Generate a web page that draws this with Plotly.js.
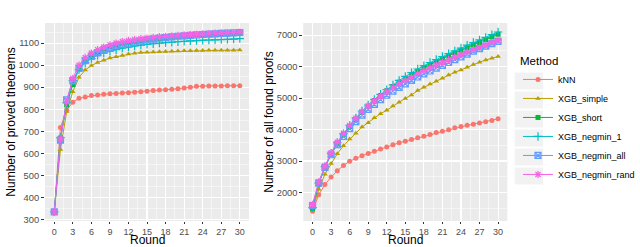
<!DOCTYPE html>
<html><head><meta charset="utf-8">
<script src="https://cdn.plot.ly/plotly-3.0.1.min.js"></script>
<style>html,body{margin:0;padding:0;background:#fff;}#chart{width:640px;height:247px;}</style>
</head><body><div id="chart"></div>
<script>
const rounds = Array.from({length:31}, (_, i) => i);
const methods = ['kNN','XGB_simple','XGB_short','XGB_negmin_1','XGB_negmin_all','XGB_negmin_rand'];
const colors = ['#F8766D','#B79F00','#00BA38','#00BFC4','#619CFF','#F564E3'];

// Left panel: number of proved theorems
const provedKNN    = [335,718,796,832,850,856,862,865,868,870,872,874,875,877,879,882,885,887,889,891,893,897,900,904,905,906,906,906,907,907,907];
const provedSimple = [335,618,790,880,945,978,998,1012,1022,1032,1038,1044,1050,1054,1057,1058,1060,1061,1062,1063,1064,1065,1065,1066,1066,1067,1067,1067,1068,1068,1069];
const provedShort  = [335,670,820,912,985,1018,1045,1062,1075,1085,1092,1098,1103,1108,1112,1115,1118,1121,1124,1127,1130,1132,1134,1136,1137,1139,1140,1141,1142,1143,1145];
const provedNeg1   = [335,672,830,930,980,1010,1030,1045,1055,1063,1070,1077,1082,1087,1091,1094,1097,1100,1102,1104,1106,1108,1110,1111,1113,1114,1115,1116,1117,1118,1120];
const provedNegAll = [335,660,843,930,985,1020,1040,1055,1068,1078,1087,1094,1100,1105,1110,1114,1118,1122,1125,1128,1131,1133,1135,1137,1139,1141,1142,1144,1145,1146,1148];
const provedNegRand= [335,665,835,940,1000,1035,1055,1070,1082,1092,1100,1107,1112,1116,1120,1123,1126,1129,1131,1133,1135,1137,1139,1140,1142,1143,1145,1146,1147,1148,1150];

// Right panel: number of all found proofs
const proofsKNN    = [1400,1930,2250,2490,2690,2860,2990,3090,3170,3240,3310,3385,3445,3515,3580,3630,3680,3740,3790,3845,3905,3950,3995,4055,4100,4135,4170,4210,4250,4290,4340];
const proofsSimple = [1450,2100,2580,2920,3232,3485,3700,3885,4080,4219,4378,4506,4611,4750,4870,4990,5099,5239,5344,5449,5535,5631,5736,5822,5895,5981,6067,6140,6213,6268,6320];
const proofsShort  = [1500,2280,2800,3220,3560,3850,4100,4330,4550,4740,4920,5080,5230,5370,5500,5620,5740,5850,5960,6060,6160,6250,6340,6430,6520,6600,6690,6770,6860,6940,7030];
const proofsNeg1   = [1520,2300,2820,3240,3580,3870,4130,4370,4590,4780,4960,5120,5270,5420,5560,5690,5810,5925,6030,6130,6225,6320,6410,6500,6590,6680,6765,6850,6930,7015,7100];
const proofsNegAll = [1580,2300,2800,3200,3520,3780,4030,4250,4460,4640,4800,4950,5090,5220,5340,5450,5560,5670,5770,5860,5950,6040,6130,6220,6310,6400,6490,6570,6650,6730,6800];
const proofsNegRand= [1620,2340,2840,3260,3600,3880,4130,4360,4570,4750,4910,5060,5200,5330,5450,5560,5670,5770,5870,5960,6050,6140,6220,6300,6380,6460,6540,6620,6690,6770,6840];

const leftSeries  = [provedKNN, provedSimple, provedShort, provedNeg1, provedNegAll, provedNegRand];
const rightSeries = [proofsKNN, proofsSimple, proofsShort, proofsNeg1, proofsNegAll, proofsNegRand];

const symbols = ['circle','triangle-up','square','cross-thin-open','square-x-open','asterisk-open'];
function markerFor(i){
  const open = symbols[i].endsWith('open');
  return {symbol: symbols[i], size: open ? 6 : 5, color: colors[i],
          line: {width: open ? 1.2 : 0, color: colors[i]}};
}

const traces = [];
methods.forEach((m, i) => {
  traces.push({x: rounds, y: leftSeries[i], type:'scatter', mode:'lines+markers', name:m,
    line:{color:colors[i], width:1}, marker: markerFor(i), xaxis:'x', yaxis:'y', showlegend:false});
});
methods.forEach((m, i) => {
  traces.push({x: rounds, y: rightSeries[i], type:'scatter', mode:'lines+markers', name:m,
    line:{color:colors[i], width:1}, marker: markerFor(i), xaxis:'x2', yaxis:'y2', showlegend:true});
});

const fontFam = 'Liberation Sans, Arial, sans-serif';
const titleFont = {size:12, color:'#000', family:fontFam};
const tickCommon = {ticks:'outside', ticklen:3, tickwidth:1, tickcolor:'#333333',
  tickfont:{size:9.3, color:'#4D4D4D', family:fontFam}, showgrid:true, gridcolor:'#FFFFFF', gridwidth:1.1,
  zeroline:false, showline:false, automargin:false};
const xCommon = Object.assign({}, tickCommon, {tickmode:'linear', tick0:0, dtick:3, range:[-1.5,31.5], ticklen:2,
  tickfont:{size:9, color:'#4D4D4D', family:fontFam},
  minor:{dtick:1.5, tick0:0, showgrid:true, gridcolor:'#FFFFFF', gridwidth:0.5, ticks:''}});

const L = 45, R = 0, T = 23, B = 26;
const W = 640 - L - R, H = 247 - T - B;

// grey legend key backgrounds (ggplot style)
const keyShapes = methods.map((m, i) => {
  const cy = 81 + i * 19;
  return {type:'rect', xref:'paper', yref:'paper', layer:'below',
    x0:(526 - L)/W, x1:(555 - L)/W, y0:(247 - B - (cy + 8.5))/H, y1:(247 - B - (cy - 8.5))/H,
    fillcolor:'#F2F2F2', line:{width:0}};
});

const xTitle = (ref) => ({text:'Round', xref:ref + ' domain', yref:'paper', x:0.5, y:(221 - 240)/H,
  xanchor:'center', yanchor:'middle', showarrow:false, borderpad:0, font:titleFont});

const layout = {
  width:640, height:247, margin:{l:L, r:R, t:T, b:B},
  paper_bgcolor:'#FFFFFF', plot_bgcolor:'#EBEBEB',
  font:{family:fontFam},
  shapes: keyShapes,
  annotations: [xTitle('x'), xTitle('x2')],
  xaxis: Object.assign({}, xCommon, {domain:[0, 209/W], anchor:'y'}),
  xaxis2: Object.assign({}, xCommon, {domain:[264.5/W, 473.5/W], anchor:'y2'}),
  yaxis: Object.assign({}, tickCommon, {domain:[0, 1], range:[294,1191], tickmode:'linear', tick0:300, dtick:100,
    minor:{dtick:50, tick0:300, showgrid:true, gridcolor:'#FFFFFF', gridwidth:0.5, ticks:''},
    title:{text:'Number of proved theorems', font:titleFont, standoff:0}, anchor:'x'}),
  yaxis2: Object.assign({}, tickCommon, {domain:[0, 1], range:[1094,7386], tickmode:'linear', tick0:0, dtick:1000,
    minor:{dtick:500, tick0:0, showgrid:true, gridcolor:'#FFFFFF', gridwidth:0.5, ticks:''},
    title:{text:'Number of all found proofs', font:titleFont, standoff:0}, anchor:'x2'}),
  legend:{x:(529.5-L)/W, y:(221-50)/H, xanchor:'left', yanchor:'top', bgcolor:'rgba(0,0,0,0)',
    font:{size:9, color:'#000', family:fontFam}, title:{text:'Method', font:{size:11.5, color:'#000', family:fontFam}},
    itemwidth:30, tracegroupgap:0}
};

Plotly.newPlot('chart', traces, layout, {staticPlot:true, displayModeBar:false});
</script></body></html>
